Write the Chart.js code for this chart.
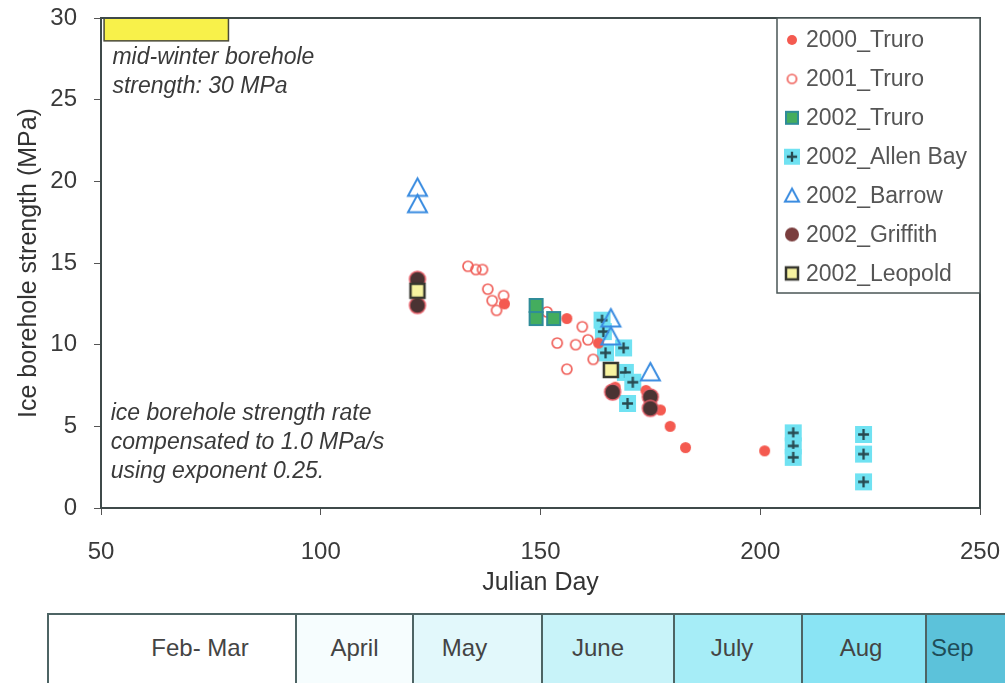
<!DOCTYPE html>
<html>
<head>
<meta charset="utf-8">
<script src="https://cdn.jsdelivr.net/npm/chart.js@4.4.1/dist/chart.umd.min.js"></script>
<style>
  html, body { margin:0; padding:0; background:#fff; }
  body { width:1005px; height:683px; overflow:hidden; position:relative; font-family:"Liberation Sans", Arial, sans-serif; }
  #wrap { position:absolute; left:0; top:0; width:1005px; height:600px; }
  #months { position:absolute; left:47px; top:613px; height:90px; display:flex; border:2px solid #4d6464; border-bottom:none; box-sizing:border-box; }
  #months div { box-sizing:border-box; border-right:2px solid #4d6464; height:100%; font-size:24px; color:#444; text-align:center; padding-top:19px; }
  #months div:last-child { border-right:none; text-align:left; padding-left:4px; color:#1f4d58; }
</style>
</head>
<body>
<div id="wrap"><canvas id="chart" width="1005" height="600"></canvas></div>
<div id="months"></div>

<script>
// valeurs (jour julien, MPa)
const truro2000   = [[122,14.0],[122,12.3],[141.8,12.5],[156,11.6],[163.2,10.1],[167,7.4],[174,7.2],[177.3,6.0],[179.5,5.0],[183,3.7],[201,3.5]];
const truro2001   = [[133.5,14.8],[135.3,14.6],[136.8,14.6],[138,13.4],[139,12.7],[140,12.1],[141.6,13.0],[151.5,12.0],[153.8,10.1],[156,8.5],[158,10.0],[159.5,11.1],[160.8,10.3],[162,9.1]];
const truro2002   = [[149,12.4],[149,11.6],[153,11.6]];
const allenBay    = [[164,11.5],[164.3,10.8],[164.8,9.5],[168.9,9.8],[169.3,8.3],[171,7.7],[169.8,6.4],[207.5,4.6],[207.5,3.8],[207.5,3.1],[223.5,4.5],[223.5,3.3],[223.5,1.6]];
const barrow      = [[122,19.6],[122,18.6],[166,11.6],[166,10.5],[175,8.3]];
const griffith    = [[122,14.0],[122,12.4],[166.4,7.1],[175,6.8],[175,6.1]];
const leopold     = [[122,13.3],[166,8.45]];

const xTicks = [50, 100, 150, 200, 250];
const yTicks = [0, 5, 10, 15, 20, 25, 30];

const monthNames  = ['Feb- Mar','April','May','June','July','Aug','Sep'];
const monthColors = ['#ffffff','#f6fdfe','#e2f8fb','#c8f3f9','#a6edf7','#8ae4f4','#5cc2da'];
const monthWidths = [248, 117, 129, 132, 128, 124, 80];
const monthShift  = [28, 0, -13, -10, -6, -3, 0];

// boite jaune + notes
const winterBox = { x0:50.7, x1:79, y0:28.6, y1:30 };
const notes = [
  { text:'mid-winter borehole', x:52.6, y:27.55 },
  { text:'strength: 30 MPa', x:52.6, y:25.8 },
  { text:'ice borehole strength rate', x:52.2, y:5.8 },
  { text:'compensated to 1.0 MPa/s', x:52.2, y:4.0 },
  { text:'using exponent 0.25.', x:52.2, y:2.2 },
];

function marker(kind, s) {
  const n = Math.ceil(s + 6);
  const c = document.createElement('canvas');
  c.width = c.height = n;
  const g = c.getContext('2d');
  const m = n / 2, h = s / 2;
  if (kind === 'dot') {
    g.fillStyle = '#f45a50';
    g.beginPath(); g.arc(m, m, h, 0, Math.PI*2); g.fill();
  } else if (kind === 'ring') {
    g.strokeStyle = '#f0625c'; g.lineWidth = 1.7;
    g.beginPath(); g.arc(m, m, h - 1, 0, Math.PI*2); g.stroke();
  } else if (kind === 'sq') {
    g.fillStyle = '#44ad5e'; g.fillRect(m-h, m-h, s, s);
    g.strokeStyle = '#2f8c98'; g.lineWidth = 2; g.strokeRect(m-h+1, m-h+1, s-2, s-2);
  } else if (kind === 'allen') {
    g.fillStyle = '#70e2f2'; g.fillRect(m-h, m-h, s, s);
    g.strokeStyle = '#284a50'; g.lineWidth = 2.3;
    const a = s * 0.32;
    g.beginPath(); g.moveTo(m-a, m); g.lineTo(m+a, m); g.moveTo(m, m-a); g.lineTo(m, m+a); g.stroke();
  } else if (kind === 'tri') {
    g.strokeStyle = '#3a8ce0'; g.lineWidth = 2;
    g.beginPath(); g.moveTo(m, m-h); g.lineTo(m+h, m+h*0.85); g.lineTo(m-h, m+h*0.85); g.closePath(); g.stroke();
  } else if (kind === 'griff') {
    g.fillStyle = '#4a3333';
    g.beginPath(); g.arc(m, m, h, 0, Math.PI*2); g.fill();
    g.strokeStyle = '#e8606a'; g.lineWidth = 1.4; g.stroke();
  } else if (kind === 'griffLeg') {
    g.fillStyle = '#7a3d3d';
    g.beginPath(); g.arc(m, m, h, 0, Math.PI*2); g.fill();
  } else if (kind === 'leo') {
    g.fillStyle = '#f7f3a0'; g.fillRect(m-h, m-h, s, s);
    g.strokeStyle = '#36362e'; g.lineWidth = 2.5; g.strokeRect(m-h+1, m-h+1, s-2, s-2);
  }
  return c;
}

const series = [
  { label:'2000_Truro',     data:truro2000, kind:'dot',   size:11, legKind:'dot',      legSize:10, order:5 },
  { label:'2001_Truro',     data:truro2001, kind:'ring',  size:12, legKind:'ring',     legSize:11, order:6 },
  { label:'2002_Truro',     data:truro2002, kind:'sq',    size:15, legKind:'sq',       legSize:14, order:4 },
  { label:'2002_Allen Bay', data:allenBay,  kind:'allen', size:17, legKind:'allen',    legSize:16, order:7 },
  { label:'2002_Barrow',    data:barrow,    kind:'tri',   size:19, legKind:'tri',      legSize:14, order:3 },
  { label:'2002_Griffith',  data:griffith,  kind:'griff', size:16, legKind:'griffLeg', legSize:14, order:2 },
  { label:'2002_Leopold',   data:leopold,   kind:'leo',   size:16, legKind:'leo',      legSize:14, order:1 },
];

const datasets = series.map(s => ({
  label: s.label,
  data: s.data.map(([x, y]) => ({ x, y })),
  pointStyle: marker(s.kind, s.size),
  pointRadius: s.size / 2,
  order: s.order,
}));

const extras = {
  id: 'extras',
  beforeDatasetsDraw(chart) {
    const { ctx, scales: { x, y } } = chart;
    ctx.save();
    // boite mi-hiver
    const bx0 = x.getPixelForValue(winterBox.x0), bx1 = x.getPixelForValue(winterBox.x1);
    const by0 = y.getPixelForValue(winterBox.y1), by1 = y.getPixelForValue(winterBox.y0);
    ctx.fillStyle = '#f8f14a';
    ctx.fillRect(bx0, by0, bx1 - bx0, by1 - by0);
    ctx.strokeStyle = '#4a4a3a'; ctx.lineWidth = 1.5;
    ctx.strokeRect(bx0, by0, bx1 - bx0, by1 - by0);
    // notes
    ctx.font = 'italic 23px "Liberation Sans", Arial, sans-serif';
    ctx.fillStyle = '#3a3a3a';
    ctx.textBaseline = 'middle';
    notes.forEach(n => ctx.fillText(n.text, x.getPixelForValue(n.x), y.getPixelForValue(n.y)));
    ctx.restore();
  },
  afterDraw(chart) {
    const { ctx, chartArea: a } = chart;
    ctx.save();
    // cadre
    ctx.strokeStyle = '#3f4a4a'; ctx.lineWidth = 2;
    ctx.beginPath();
    ctx.moveTo(a.left, a.top); ctx.lineTo(a.right, a.top); ctx.lineTo(a.right, a.bottom);
    ctx.stroke();
    // legende
    const lx = 777, ly = a.top, lw = a.right - 777, lh = 293 - a.top;
    ctx.fillStyle = '#fff'; ctx.fillRect(lx, ly, lw, lh);
    ctx.strokeStyle = '#4a5656'; ctx.lineWidth = 1.5;
    ctx.strokeRect(lx, ly, lw, lh);
    ctx.font = '23px "Liberation Sans", Arial, sans-serif';
    ctx.fillStyle = '#555';
    ctx.textBaseline = 'middle';
    series.forEach((s, i) => {
      const cy = 40 + i * 38.9;
      const img = marker(s.legKind, s.legSize);
      ctx.drawImage(img, 792 - img.width / 2, cy - img.height / 2);
      ctx.fillText(s.label, 806, cy + 1);
    });
    ctx.restore();
  }
};

new Chart(document.getElementById('chart'), {
  type: 'scatter',
  data: { datasets },
  options: {
    responsive: false,
    animation: false,
    layout: { padding: { top: 18, right: 25, left: 0, bottom: 0 } },
    plugins: { legend: { display: false }, tooltip: { enabled: false } },
    scales: {
      x: {
        type: 'linear', min: 50, max: 250,
        afterBuildTicks: s => { s.ticks = xTicks.map(v => ({ value: v })); },
        afterFit: s => { s.height = 92; s.paddingLeft = 0; s.paddingRight = 0; },
        ticks: { font: { size: 24 }, color: '#3a3a3a', padding: 23 },
        grid: { drawOnChartArea: false, tickLength: 7, color: '#555' },
        border: { color: '#3f4a4a', width: 2 },
        title: { display: true, text: 'Julian Day', font: { size: 25 }, color: '#333', padding: { top: 0, bottom: 2 } },
      },
      y: {
        min: 0, max: 30,
        afterBuildTicks: s => { s.ticks = yTicks.map(v => ({ value: v })); },
        afterFit: s => { s.width = 101; s.paddingTop = 0; s.paddingBottom = 0; },
        ticks: { font: { size: 24 }, color: '#3a3a3a', padding: 17 },
        grid: { drawOnChartArea: false, tickLength: 7, color: '#555' },
        border: { color: '#3f4a4a', width: 2 },
        title: { display: true, text: 'Ice borehole strength (MPa)', font: { size: 25 }, color: '#333', padding: { top: 14, bottom: 0 } },
      },
    },
  },
  plugins: [extras],
});

// bandeau des mois
const monthsEl = document.getElementById('months');
monthsEl.innerHTML = monthNames.map((m, i) =>
  `<div style="width:${monthWidths[i]}px;background:${monthColors[i]}"><span style="position:relative;left:${monthShift[i]}px">${m}</span></div>`).join('');
</script>
</body>
</html>
